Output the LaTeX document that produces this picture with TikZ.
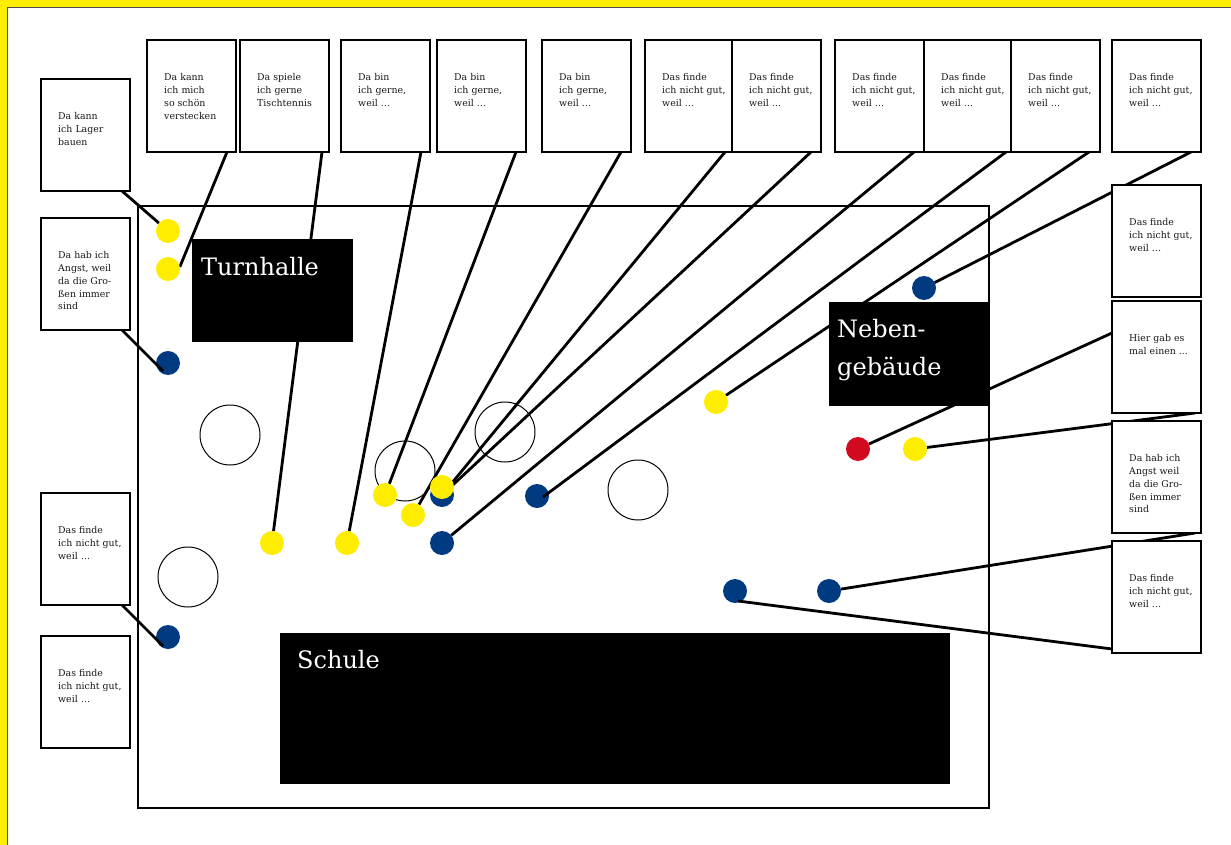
\documentclass[tikz,border=0pt]{standalone}
\usepackage{fontspec}
\setmainfont{DejaVu Serif}
\definecolor{ylw}{HTML}{FFED00}
\definecolor{blu}{HTML}{003A80}
\definecolor{rd}{HTML}{D20A20}
\pgfdeclarelayer{back}
\pgfdeclarelayer{lines}
\pgfdeclarelayer{front}
\pgfsetlayers{back,lines,main,front}
\newcommand\mkcard[3]{\node[card] (#1) at (#2) {};\node[cardtext] at ([shift={(17,33)}]#1.north west) {#3};}
\newcommand\nichtgut{Das finde\\ich nicht gut,\\weil …}
\newcommand\gerne{Da bin\\ich gerne,\\weil …}
\begin{document}
\begin{tikzpicture}[x=1pt,y=-1pt,
  card/.style={draw=black, line width=2.8pt, fill=white, minimum width=89pt, minimum height=112pt, inner sep=0pt, outer sep=0pt, anchor=north west},
  cardtext/.style={anchor=north west, inner sep=0pt, align=left, font=\fontsize{9.4}{12.9}\selectfont, text=black!90},
  bldg/.style={fill=black, anchor=north west, inner sep=0pt, outer sep=0pt},
  bldgtext/.style={text=white, font=\fontsize{24}{38}\selectfont, anchor=base west, inner sep=0pt},
  dot/.style={circle, minimum size=24pt, inner sep=0pt, outer sep=0pt},
  ydot/.style={dot, fill=ylw},
  bdot/.style={dot, fill=blu},
  rdot/.style={dot, fill=rd},
  tree/.style={circle, draw=black, line width=1pt, minimum size=60pt, inner sep=0pt},
  conn/.style={line width=2.8pt}]
\useasboundingbox (0,0) rectangle (1231,845);
\begin{pgfonlayer}{back}
\fill[ylw] (0,0) rectangle (1231,845);
\fill[white] (7,8) rectangle (1231,845);
\draw[line width=1pt, black!70] (7,845) -- (7,8) -- (1231,8);
\draw[line width=2.8pt] (138,206) rectangle (989,808);
\node[tree] (c1) at (230,435) {};
\node[tree] (c2) at (188,577) {};
\node[tree] (c3) at (405,471) {};
\node[tree] (c4) at (505,432) {};
\node[tree] (c5) at (638,490) {};
\end{pgfonlayer}
% buildings
\node[bldg, minimum width=161pt, minimum height=103pt] (turn) at (192,239) {};
\node[bldgtext] at ([shift={(9,36)}]turn.north west) {Turnhalle};
\node[bldg, minimum width=160pt, minimum height=104pt] (neben) at (829,302) {};
\node[bldgtext] at ([shift={(8,35)}]neben.north west) {Neben-};
\node[bldgtext] at ([shift={(8,73)}]neben.north west) {gebäude};
\node[bldg, minimum width=670pt, minimum height=151pt] (schule) at (280,633) {};
\node[bldgtext] at ([shift={(17,35)}]schule.north west) {Schule};
% dots
\node[ydot] (y1) at (168,231) {};
\node[ydot] (y2) at (168,269) {};
\node[bdot] (b1) at (168,363) {};
\node[bdot] (b2) at (168,637) {};
\node[ydot] (y3) at (272,543) {};
\node[ydot] (y4) at (347,543) {};
\node[ydot] (y5) at (385,495) {};
\node[ydot] (y6) at (413,515) {};
\node[bdot] (b3) at (442,495) {};
\node[ydot] (y7) at (442,487) {};
\node[bdot] (b4) at (442,543) {};
\node[bdot] (b5) at (537,496) {};
\node[ydot] (y8) at (716,402) {};
\node[rdot] (rr) at (858,449) {};
\node[ydot] (y9) at (915,449) {};
\node[bdot] (b6) at (924,288) {};
\node[bdot] (b7) at (735,591) {};
\node[bdot] (b8) at (829,591) {};
% cards
\mkcard{l1}{41,79}{Da kann\\ich Lager\\bauen}
\mkcard{l2}{41,218}{Da hab ich\\Angst, weil\\da die Gro-\\ßen immer\\sind}
\mkcard{l3}{41,493}{\nichtgut}
\mkcard{l4}{41,636}{\nichtgut}
\mkcard{t1}{147,40}{Da kann\\ich mich\\so schön\\verstecken}
\mkcard{t2}{240,40}{Da spiele\\ich gerne\\Tischtennis}
\mkcard{t3}{341,40}{\gerne}
\mkcard{t4}{437,40}{\gerne}
\mkcard{t5}{542,40}{\gerne}
\mkcard{f1}{645,40}{\nichtgut}
\mkcard{f2}{732,40}{\nichtgut}
\mkcard{f3}{835,40}{\nichtgut}
\mkcard{f4}{924,40}{\nichtgut}
\mkcard{f5}{1011,40}{\nichtgut}
\mkcard{r0}{1112,40}{\nichtgut}
\mkcard{r1}{1112,185}{\nichtgut}
\mkcard{r2}{1112,301}{Hier gab es\\mal einen ...}
\mkcard{r3}{1112,421}{Da hab ich\\Angst weil\\da die Gro-\\ßen immer\\sind}
\mkcard{r4}{1112,541}{\nichtgut}
% connectors beneath
\begin{pgfonlayer}{lines}
\draw[conn] ([shift={(-8,0)}]l1.south east) -- (y1);
\draw[conn] ([shift={(-9,0)}]t1.south east) -- (y2.10);
\draw[conn] ([shift={(-7,0)}]t2.south east) -- (y3);
\draw[conn] ([shift={(-9,0)}]t3.south east) -- (y4);
\draw[conn] ([shift={(-10,0)}]t4.south east) -- (y5);
\draw[conn] ([shift={(-10,0)}]t5.south east) -- (y6);
\draw[conn] ([shift={(-9,0)}]f1.south east) -- (b3);
\draw[conn] ([shift={(-10,0)}]f2.south east) -- (b3);
\draw[conn] ([shift={(-10,0)}]f3.south east) -- (b4);
\draw[conn] ([shift={(-11,0)}]f5.south east) -- (y8);
\draw[conn] ([shift={(-10,0)}]r0.south east) -- (b6);
\draw[conn] ([shift={(0,32)}]r2.north west) -- (rr);
\draw[conn] ([shift={(-6,0)}]r2.south east) -- (y9);
\draw[conn] ([shift={(-6,0)}]r3.south east) -- (b8);
\end{pgfonlayer}
% connectors on top of their dots
\begin{pgfonlayer}{front}
\draw[conn] ([shift={(-8,0)}]l2.south east) -- ([shift={(-5,8)}]b1.center);
\draw[conn] ([shift={(-8,0)}]l3.south east) -- ([shift={(-5,9)}]b2.center);
\draw[conn] ([shift={(-7,0)}]f4.south east) -- ([shift={(6,1)}]b5.center);
\draw[conn] ([shift={(0,-4)}]r4.south west) -- ([shift={(3,10)}]b7.center);
\end{pgfonlayer}
\end{tikzpicture}
\end{document}
